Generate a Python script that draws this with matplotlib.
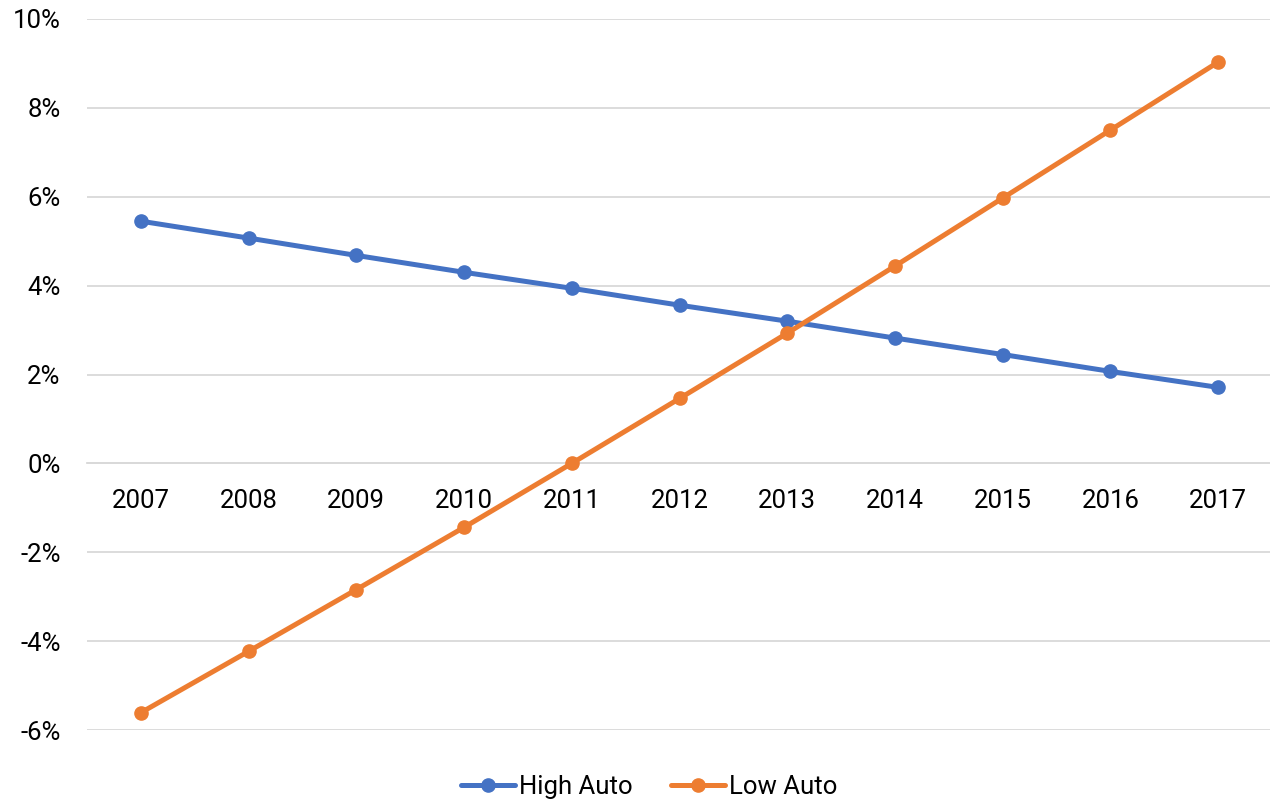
import matplotlib
matplotlib.use('Agg')
import matplotlib.pyplot as plt
from matplotlib.ticker import FuncFormatter

years = ['2007', '2008', '2009', '2010', '2011', '2012',
         '2013', '2014', '2015', '2016', '2017']
high_auto = [5.45, 5.07, 4.68, 4.30, 3.94, 3.56, 3.20, 2.82, 2.45, 2.07, 1.71]
low_auto = [-5.61, -4.23, -2.84, -1.44, 0.00, 1.46, 2.93, 4.44, 5.97, 7.50, 9.03]
y_ticks = [-6, -4, -2, 0, 2, 4, 6, 8, 10]

plt.rcParams['font.family'] = ['Roboto', 'DejaVu Sans']

W, H = 1270, 802
dpi = 100.0
fig = plt.figure(figsize=(W / dpi, H / dpi), dpi=dpi)
fig.patch.set_facecolor('white')

# axes box in pixels: left 87, top 19, bottom 730, right runs just past the edge
left, top, bottom, right = 87, 19, 730, 1272
ax = fig.add_axes([left / W, 1 - bottom / H, (W - left) / W, (bottom - top) / H])
ax.set_clip_on(False)

x = list(range(len(years)))
blue = '#4472C4'
orange = '#ED7D31'
ax.plot(x, high_auto, color=blue, lw=3.6, marker='o', markersize=9.5,
        solid_capstyle='round', label='High Auto', zorder=3)
ax.plot(x, low_auto, color=orange, lw=3.6, marker='o', markersize=9.5,
        solid_capstyle='round', label='Low Auto', zorder=4)

step = (right - left) / len(years)
ax.set_xlim(-0.5, -0.5 + (W - left) / step)
ax.set_ylim(-6, 10)
ax.set_yticks(y_ticks)
ax.yaxis.set_major_formatter(FuncFormatter(lambda v, p: f'{int(v)}%'))
ax.set_xticks(x)
ax.set_xticklabels(years)

ax.grid(axis='y', color='#D9D9D9', lw=1.3, zorder=0)
ax.set_axisbelow(True)
for s in ['top', 'right', 'left']:
    ax.spines[s].set_visible(False)
ax.spines['bottom'].set_position(('data', 0))
ax.spines['bottom'].set_color('#D9D9D9')
ax.spines['bottom'].set_linewidth(1.3)

ax.tick_params(axis='both', length=0, labelsize=18.5, colors='black')
ax.tick_params(axis='y', pad=19)
ax.tick_params(axis='x', pad=18.5)

fig.legend(loc='center', bbox_to_anchor=(0.511, 1 - 787 / H), ncol=2,
           frameon=False, fontsize=18.5, handlelength=2.1, handletextpad=0.15,
           columnspacing=1.5)

fig.savefig('out.png', dpi=dpi)
